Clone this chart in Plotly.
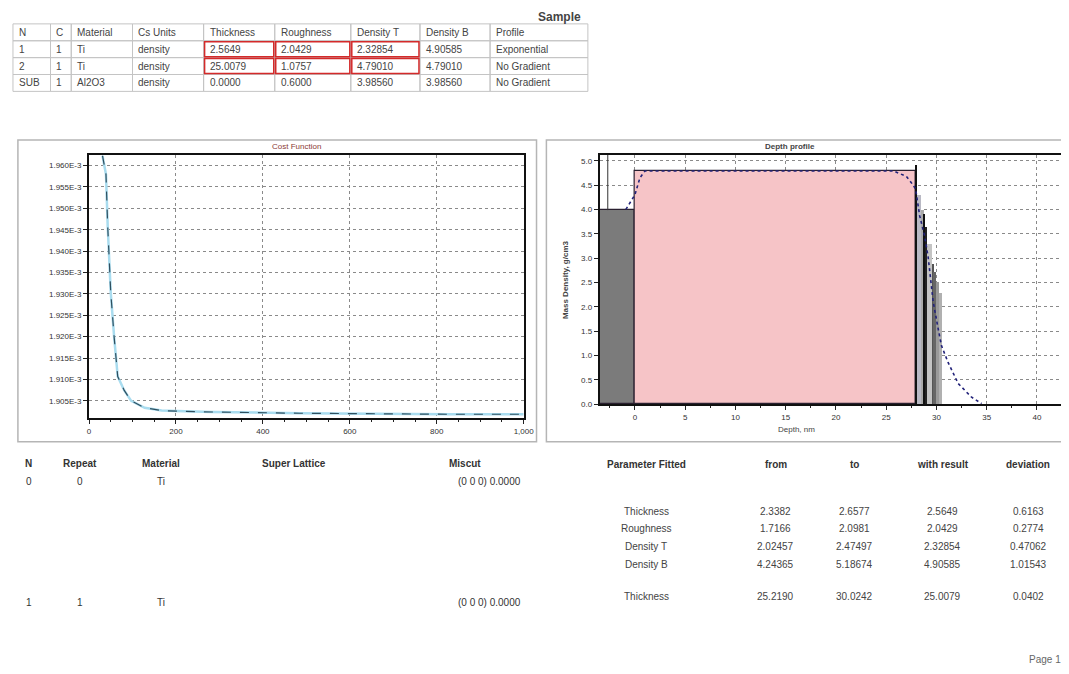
import plotly.graph_objects as go

W, H = 1069, 674


def px(x):
    return x / W


def py(y):
    return 1 - y / H


# ---------------- data ----------------
tbl_header = ["N", "C", "Material", "Cs Units", "Thickness", "Roughness",
              "Density T", "Density B", "Profile"]
tbl_rows = [
    ["1", "1", "Ti", "density", "2.5649", "2.0429", "2.32854", "4.90585", "Exponential"],
    ["2", "1", "Ti", "density", "25.0079", "1.0757", "4.79010", "4.79010", "No Gradient"],
    ["SUB", "1", "Al2O3", "density", "0.0000", "0.6000", "3.98560", "3.98560", "No Gradient"],
]
fitted_cells = [(0, 4), (0, 5), (0, 6), (1, 4), (1, 5), (1, 6)]

cost_iter = [31, 39, 43, 50, 58, 66, 81, 97, 128, 167, 221, 283, 484, 593, 826, 1000]
cost_val = [1.96230e-3, 1.95796e-3, 1.94574e-3, 1.93025e-3, 1.91966e-3, 1.91069e-3,
            1.90743e-3, 1.90500e-3, 1.90337e-3, 1.90272e-3, 1.90255e-3, 1.90239e-3,
            1.90210e-3, 1.90198e-3, 1.90186e-3, 1.90186e-3]
cost_ticks = [1.905e-3, 1.910e-3, 1.915e-3, 1.920e-3, 1.925e-3, 1.930e-3,
              1.935e-3, 1.940e-3, 1.945e-3, 1.950e-3, 1.955e-3, 1.960e-3]
cost_ticktext = ["1.905E-3", "1.910E-3", "1.915E-3", "1.920E-3", "1.925E-3", "1.930E-3",
                 "1.935E-3", "1.940E-3", "1.945E-3", "1.950E-3", "1.955E-3", "1.960E-3"]
cost_xticks = [0, 200, 400, 600, 800, 1000]
cost_xticktext = ["0", "200", "400", "600", "800", "1,000"]

layer_left = [-3.5, 0.0]
layer_right = [0.0, 27.93]
layer_density = [3.9856, 4.7901]
layer_color = ["#7b7b7b", "#f6c4c7"]

sub_left = [27.93, 28.40, 28.70, 28.85, 29.00, 29.55, 29.72, 29.90, 30.25]
sub_right = [28.40, 28.70, 28.85, 29.00, 29.55, 29.72, 29.90, 30.25, 30.55]
sub_density = [4.30, 4.00, 3.90, 3.65, 3.30, 2.89, 2.71, 2.50, 2.29]
sub_color = ["#b9b9c4", "#a9a9a9", "#111111", "#222222", "#c4c4c4",
             "#555555", "#666666", "#9a9a9a", "#b0b0b0"]
edge_pos = 27.93
edge_height = 4.92

fit_x = [-0.9, 0.0, 0.5, 1.0, 25.7, 27.0, 27.5, 27.93, 28.33, 28.83, 29.17, 29.4,
         29.67, 30.17, 30.5, 31.17, 32.17, 33.5, 34.5]
fit_y = [4.0, 4.3, 4.65, 4.79, 4.79, 4.68, 4.55, 4.42, 3.87, 3.45, 3.03, 2.6,
         2.11, 1.55, 1.2, 0.85, 0.42, 0.14, 0.01]

layers_hdr = ["N", "Repeat", "Material", "Super Lattice", "Miscut"]
layers_rows = [["0", "0", "Ti", "", "(0 0 0) 0.0000"],
               ["1", "1", "Ti", "", "(0 0 0) 0.0000"]]

fit_hdr = ["Parameter Fitted", "from", "to", "with result", "deviation"]
fit_rows = [
    ["Thickness", "2.3382", "2.6577", "2.5649", "0.6163"],
    ["Roughness", "1.7166", "2.0981", "2.0429", "0.2774"],
    ["Density T", "2.02457", "2.47497", "2.32854", "0.47062"],
    ["Density B", "4.24365", "5.18674", "4.90585", "1.01543"],
    ["Thickness", "25.2190", "30.0242", "25.0079", "0.0402"],
]

# ---------------- layout geometry ----------------
col_edges = [3, 41, 62, 124, 196, 268, 345, 415, 486, 585]
row_edges = [16, 33, 50, 67, 84]

fig = go.Figure()

# cost function traces
fig.add_trace(go.Scatter(x=cost_iter, y=cost_val, mode="lines",
                         line=dict(color="#a9dcef", width=2.5), xaxis="x", yaxis="y",
                         showlegend=False, hoverinfo="skip"))
fig.add_trace(go.Scatter(x=cost_iter, y=cost_val, mode="lines",
                         line=dict(color="#2f4f5f", width=1.2, dash="dash"),
                         xaxis="x", yaxis="y", showlegend=False))

# depth profile bars
fig.add_trace(go.Bar(
    x=[(l + r) / 2 for l, r in zip(layer_left, layer_right)],
    y=layer_density,
    width=[r - l for l, r in zip(layer_left, layer_right)],
    marker=dict(color=layer_color, line=dict(color="#2a2030", width=1.2)),
    xaxis="x2", yaxis="y2", showlegend=False))
fig.add_trace(go.Bar(
    x=[(l + r) / 2 for l, r in zip(sub_left, sub_right)],
    y=sub_density,
    width=[r - l for l, r in zip(sub_left, sub_right)],
    marker=dict(color=sub_color, line=dict(width=0)),
    xaxis="x2", yaxis="y2", showlegend=False))
fig.add_trace(go.Bar(
    x=[edge_pos], y=[edge_height], width=[0.14],
    marker=dict(color="#111111", line=dict(width=0)),
    xaxis="x2", yaxis="y2", showlegend=False))
fig.add_trace(go.Scatter(x=fit_x, y=fit_y, mode="lines",
                         line=dict(color="#23237a", width=1.6, dash="dot"),
                         xaxis="x2", yaxis="y2", showlegend=False))

axis_common = dict(showline=True, mirror=True, linecolor="#111", linewidth=2,
                   ticks="outside", ticklen=4, tickcolor="#222",
                   tickfont=dict(family="Liberation Sans, Arial", size=8, color="#333"),
                   showgrid=True, gridcolor="#8a8a8a", griddash="dot", gridwidth=1,
                   zeroline=False)

fig.update_layout(
    width=W, height=674,
    margin=dict(l=0, r=0, t=0, b=0),
    paper_bgcolor="white", plot_bgcolor="white",
    barmode="overlay", bargap=0,
    font=dict(family="Liberation Sans, Arial", color="#333"),
    xaxis=dict(domain=[px(80), px(520)], range=[0, 1000], anchor="y",
               tickvals=cost_xticks, ticktext=cost_xticktext,
               minor=dict(dtick=50, ticks="outside", ticklen=2, tickcolor="#222", showgrid=False),
               **axis_common),
    yaxis=dict(domain=[py(413), py(148)], range=[1.9010e-3, 1.9625e-3], anchor="x",
               tickvals=cost_ticks, ticktext=cost_ticktext, **axis_common),
    xaxis2=dict(domain=[px(597), px(1064)], range=[-3.5, 42.4], anchor="y2",
                tickvals=[0, 5, 10, 15, 20, 25, 30, 35, 40],
                minor=dict(dtick=2.5, ticks="outside", ticklen=2, tickcolor="#222", showgrid=False),
                **axis_common),
    yaxis2=dict(domain=[py(399), py(148)], range=[0, 5.12], anchor="x2",
                dtick=0.5, tickformat=".1f", **axis_common),
)

shapes = []
annotations = []

# panel boxes
shapes.append(dict(type="rect", xref="paper", yref="paper",
                   x0=px(8), x1=px(533), y0=py(437), y1=py(133),
                   line=dict(color="#b5b5b5", width=1.5)))
shapes.append(dict(type="rect", xref="paper", yref="paper",
                   x0=px(543), x1=px(1080), y0=py(437), y1=py(133),
                   line=dict(color="#b5b5b5", width=1.5)))
# inner frame edge of the depth plot
shapes.append(dict(type="line", xref="x2", yref="y2", x0=-2.7, x1=-2.7, y0=3.9856, y1=5.12,
                   line=dict(color="#333", width=1)))

# top table
for r in range(len(row_edges) - 1):
    for c in range(len(col_edges) - 1):
        shapes.append(dict(type="rect", xref="paper", yref="paper",
                           x0=px(col_edges[c]), x1=px(col_edges[c + 1]),
                           y0=py(row_edges[r + 1]), y1=py(row_edges[r]),
                           line=dict(color="#c4c4c4", width=1)))
for (r, c) in fitted_cells:
    rr = r + 1
    shapes.append(dict(type="rect", xref="paper", yref="paper",
                       x0=px(col_edges[c] + 1), x1=px(col_edges[c + 1] - 1),
                       y0=py(row_edges[rr + 1] - 1), y1=py(row_edges[rr] + 1),
                       line=dict(color="#d42a2a", width=1.5)))

all_rows = [tbl_header] + tbl_rows
for r, row in enumerate(all_rows):
    yc = (row_edges[r] + row_edges[r + 1]) / 2
    for c, txt in enumerate(row):
        annotations.append(dict(x=px(col_edges[c] + 4), y=py(yc), xref="paper", yref="paper",
                                text=txt, showarrow=False, xanchor="left", yanchor="middle",
                                font=dict(size=10, color="#444")))
annotations.append(dict(x=px(556), y=py(9), xref="paper", yref="paper", text="<b>Sample</b>",
                        showarrow=False, xanchor="center", yanchor="middle",
                        font=dict(size=12, color="#444")))

# chart titles
annotations.append(dict(x=px(263), y=py(140), xref="paper", yref="paper", text="Cost Function",
                        showarrow=False, yanchor="middle", font=dict(size=8, color="#8b3b35")))
annotations.append(dict(x=px(817), y=py(140), xref="paper", yref="paper",
                        text="<b>Depth profile</b>", yanchor="middle",
                        showarrow=False, font=dict(size=8, color="#444")))
annotations.append(dict(x=px(817), y=py(425), xref="paper", yref="paper", text="Depth, nm",
                        showarrow=False, yanchor="middle", font=dict(size=8, color="#444")))
annotations.append(dict(x=px(563), y=py(274), xref="paper", yref="paper",
                        text="<b>Mass Density, g/cm3</b>", textangle=-90, yanchor="middle",
                        showarrow=False, font=dict(size=8, color="#444")))

# bottom-left table
lx = [19, 71, 153, 288, 519]
lanchor = ["center", "center", "center", "center", "right"]
hdr_x = [19, 71, 153, 288, 461]
for i, t in enumerate(layers_hdr):
    annotations.append(dict(x=px(hdr_x[i]), y=py(466), xref="paper", yref="paper",
                            text="<b>" + t + "</b>", showarrow=False, xanchor="center",
                            font=dict(size=10, color="#333")))
for ri, (row, yy) in enumerate(zip(layers_rows, [485, 606])):
    for i, t in enumerate(row):
        if t:
            annotations.append(dict(x=px(lx[i]), y=py(yy), xref="paper", yref="paper",
                                    text=t, showarrow=False, xanchor=lanchor[i],
                                    font=dict(size=10, color="#333")))

# bottom-right table
fx = [644, 775, 855, 944, 1031]
for i, t in enumerate(fit_hdr):
    annotations.append(dict(x=px(fx[i]), y=py(467), xref="paper", yref="paper",
                            text="<b>" + t + "</b>", showarrow=False, xanchor="center",
                            font=dict(size=10, color="#333")))
for row, yy in zip(fit_rows, [515, 532, 550, 568, 600]):
    for i, t in enumerate(row):
        annotations.append(dict(x=px(fx[i]), y=py(yy), xref="paper", yref="paper",
                                text=t, showarrow=False, xanchor="center",
                                font=dict(size=10, color="#444")))

annotations.append(dict(x=px(1066), y=py(664), xref="paper", yref="paper", text="Page 1",
                        showarrow=False, xanchor="right", font=dict(size=10, color="#666")))

fig.update_layout(shapes=shapes, annotations=annotations)
fig.write_html("out.html")
